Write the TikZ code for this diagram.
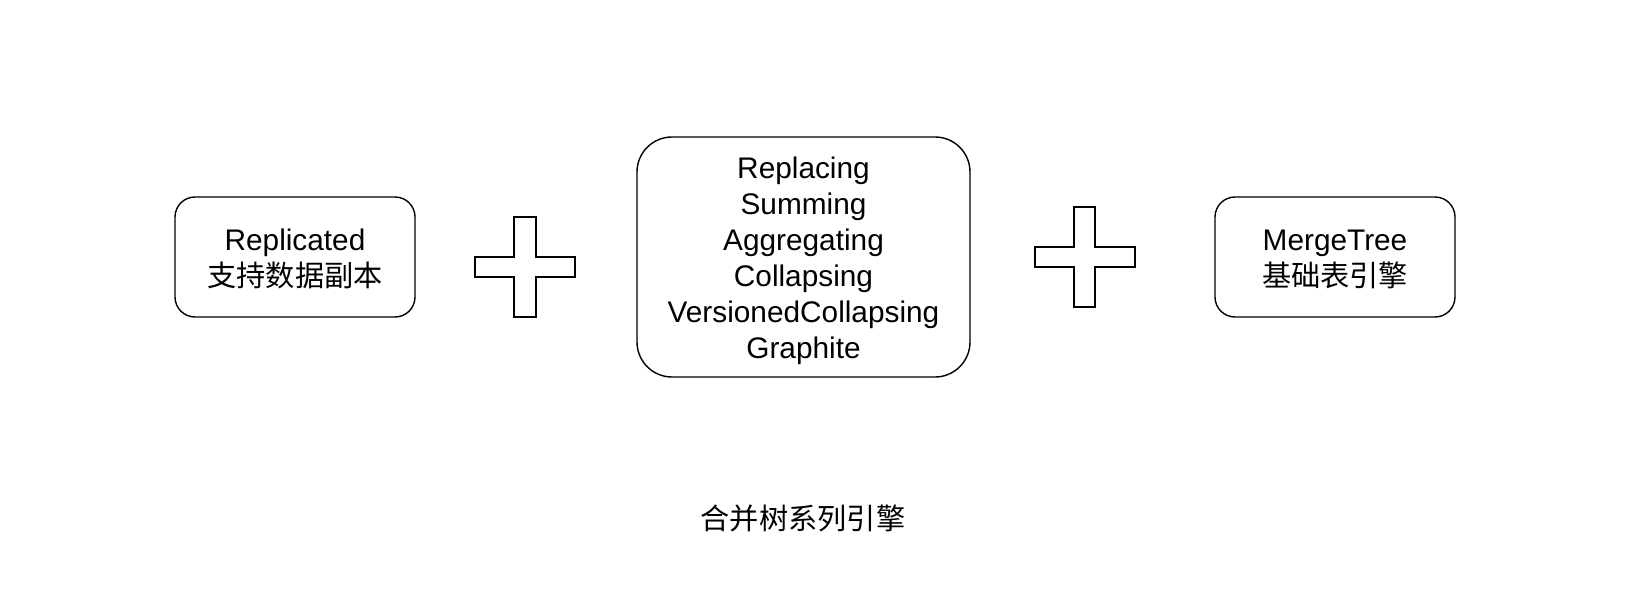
\documentclass[tikz,border=0pt]{standalone}
\usepackage{fontspec}
\setmainfont{Liberation Sans}
\newfontfamily\cjk{Noto Sans CJK SC}[Scale=0.98]
\begin{document}
\begin{tikzpicture}[x=1pt,y=-1pt,
  box/.style={draw=black,line width=1.4pt,rounded corners=#1,inner sep=0pt},
  box/.default=20pt,
  plus/.style={draw=black,line width=1.4pt,fill=white},
  lbl/.style={align=center,inner sep=0pt,font=\fontsize{29.8}{36}\selectfont}]
\useasboundingbox (0,0) rectangle (1652,612);
% left box
\node[box, minimum width=240pt, minimum height=120pt] (repl) at (295,257) {};
\node[lbl] (repltxt) at (295,259) {Replicated\\{\cjk 支持数据副本}};
% plus 1
\draw[plus] (514,217) -- (536,217) -- (536,257) -- (575,257) -- (575,277) -- (536,277)
  -- (536,317) -- (514,317) -- (514,277) -- (475,277) -- (475,257) -- (514,257) -- cycle;
% middle box
\node[box=35pt, minimum width=333pt, minimum height=240pt] (mid) at (803.5,257) {};
\node[lbl] (midtxt) at (803.5,261) {Replacing\\Summing\\Aggregating\\Collapsing\\VersionedCollapsing\\Graphite};
% plus 2
\draw[plus] (1074,207) -- (1095,207) -- (1095,247) -- (1135,247) -- (1135,267) -- (1095,267)
  -- (1095,307) -- (1074,307) -- (1074,267) -- (1035,267) -- (1035,247) -- (1074,247) -- cycle;
% right box
\node[box, minimum width=240pt, minimum height=120pt] (mt) at (1335,257) {};
\node[lbl] (mttxt) at (1335,259) {MergeTree\\{\cjk 基础表引擎}};
% bottom caption
\node[lbl] (cap) at (803,518) {\cjk 合并树系列引擎};
\end{tikzpicture}
\end{document}
